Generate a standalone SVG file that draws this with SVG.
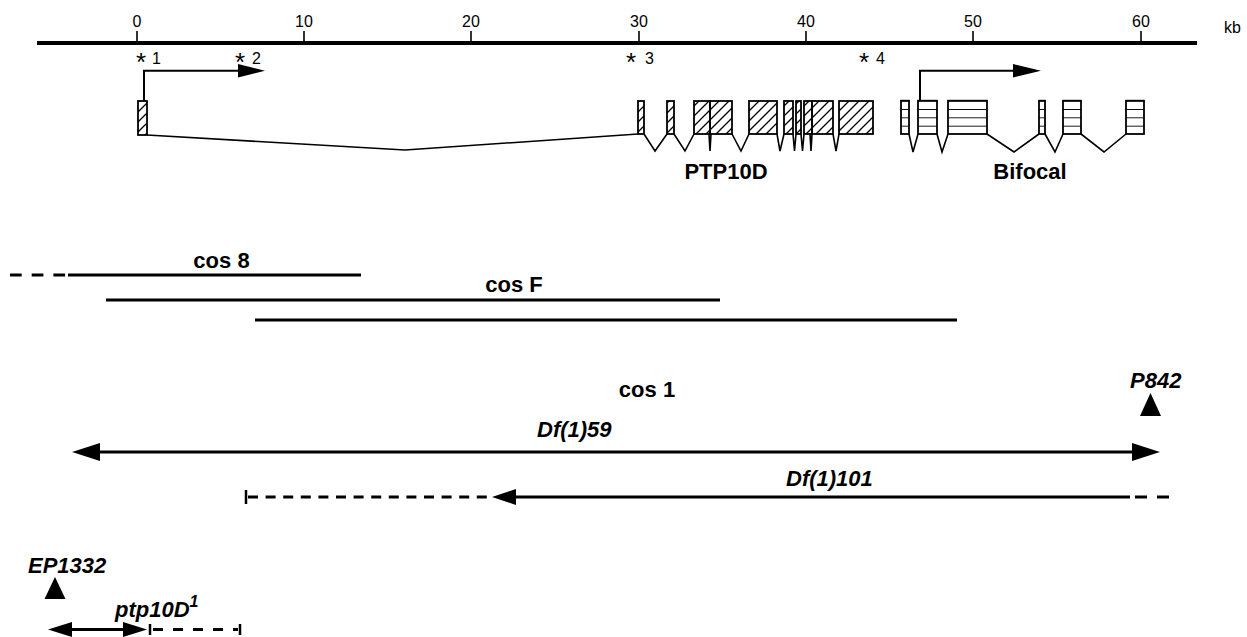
<svg xmlns="http://www.w3.org/2000/svg" width="1247" height="637" viewBox="0 0 1247 637">
<style>
  .reg{font-family:"Liberation Sans",Arial,sans-serif;font-size:16px;fill:#000}
  .b{font-family:"Liberation Sans",Arial,sans-serif;font-size:22px;font-weight:bold;fill:#000}
  .bi{font-family:"Liberation Sans",Arial,sans-serif;font-size:22px;font-weight:bold;font-style:italic;fill:#000}
  .star{font-family:"Liberation Sans",Arial,sans-serif;font-size:26px;fill:#000}
  .axis{stroke:#000;stroke-width:4;fill:none}
  .tick{stroke:#000;stroke-width:1.6;fill:none}
  .thin{stroke:#000;stroke-width:1.6;fill:none}
  .clone{stroke:#000;stroke-width:3.2;fill:none}
  .dash{stroke:#000;stroke-width:3.2;fill:none;stroke-dasharray:10 7.6}
  .hex{fill:url(#hatch);stroke:#000;stroke-width:1.8}
  .sex{fill:url(#stripe);stroke:#000;stroke-width:1.8}
  .head{fill:#000;stroke:none}
</style>
<defs>
  <pattern id="hatch" patternUnits="userSpaceOnUse" width="10" height="10">
    <path d="M-1,1 l2,-2 M0,10 l10,-10 M9,11 l2,-2" stroke="#000" stroke-width="1.3"/>
  </pattern>
  <pattern id="stripe" patternUnits="userSpaceOnUse" x="0" y="100.7" width="20" height="8.33">
    <line x1="0" y1="0" x2="20" y2="0" stroke="#000" stroke-width="1.8"/>
  </pattern>
</defs>

<g id="scale">
  <line class="axis" x1="37" y1="43" x2="1197" y2="43"/>
  <g class="tick">
    <line x1="137" y1="31" x2="137" y2="43"/>
    <line x1="304" y1="31" x2="304" y2="43"/>
    <line x1="471" y1="31" x2="471" y2="43"/>
    <line x1="639" y1="31" x2="639" y2="43"/>
    <line x1="806" y1="31" x2="806" y2="43"/>
    <line x1="973" y1="31" x2="973" y2="43"/>
    <line x1="1141" y1="31" x2="1141" y2="43"/>
  </g>
  <g class="reg" text-anchor="middle">
    <text x="137" y="27">0</text>
    <text x="304" y="27">10</text>
    <text x="471" y="27">20</text>
    <text x="639" y="27">30</text>
    <text x="806" y="27">40</text>
    <text x="973" y="27">50</text>
    <text x="1141" y="27">60</text>
  </g>
  <text class="reg" x="1224" y="33">kb</text>
</g>

<g id="sites">
  <text class="star" x="136" y="71">*</text><text class="reg" x="152" y="64">1</text>
  <text class="star" x="235" y="71">*</text><text class="reg" x="252" y="64">2</text>
  <text class="star" x="626" y="71">*</text><text class="reg" x="645" y="64">3</text>
  <text class="star" x="859" y="71">*</text><text class="reg" x="876" y="64">4</text>
</g>

<g id="ptp10d">
  <path class="thin" d="M147,135 L405,150 L638,134"/>
  <path class="thin" d="M644,134 L655,151 L667,134 M674,134 L685,151 L694,134 M709,134 L710,151 L711,134 M732,134 L741,151 L749,134 M777,134 L780,151 L784,134 M793,134 L794.5,151 L796,134 M801,134 L802.5,151 L804,134 M810,134 L811,151 L812,134 M833,134 L836,151 L839,134"/>
  <rect class="hex" x="138" y="101" width="9" height="34"/>
  <rect class="hex" x="638" y="101" width="6" height="33"/>
  <rect class="hex" x="667" y="101" width="7" height="33"/>
  <rect class="hex" x="694" y="101" width="16" height="33"/>
  <rect class="hex" x="710" y="101" width="22" height="33"/>
  <rect class="hex" x="749" y="101" width="28" height="33"/>
  <rect class="hex" x="784" y="101" width="9" height="33"/>
  <rect class="hex" x="796" y="101" width="5" height="33"/>
  <rect class="hex" x="804" y="101" width="8" height="33"/>
  <rect class="hex" x="812" y="101" width="21" height="33"/>
  <rect class="hex" x="839" y="101" width="34" height="33"/>
  <path class="thin" d="M144,101 L144,70.7 L239,70.7" style="stroke-width:2"/>
  <polygon class="head" points="238,64 265,70.7 238,77.5"/>
  <text class="b" x="726" y="179" text-anchor="middle">PTP10D</text>
</g>

<g id="bifocal">
  <path class="thin" d="M909,134 L913,152 L918,134 M937,134 L942,152 L948,134 M987,134 L1014,152 L1039,134 M1045,134 L1055,152 L1063,134 M1081,134 L1104,152 L1126,134"/>
  <rect class="sex" x="901" y="100.7" width="8" height="33.3"/>
  <rect class="sex" x="918" y="100.7" width="19" height="33.3"/>
  <rect class="sex" x="948" y="100.7" width="39" height="33.3"/>
  <rect class="sex" x="1039" y="100.7" width="6" height="33.3"/>
  <rect class="sex" x="1063" y="100.7" width="18" height="33.3"/>
  <rect class="sex" x="1126" y="100.7" width="18" height="33.3"/>
  <path class="thin" d="M920,100.7 L920,70.7 L1014,70.7" style="stroke-width:2"/>
  <polygon class="head" points="1013,64 1041,70.7 1013,77.5"/>
  <text class="b" x="1030" y="179" text-anchor="middle">Bifocal</text>
</g>

<g id="cos8">
  <line class="clone" x1="10" y1="275" x2="67" y2="275" style="stroke-dasharray:11.7 10"/>
  <line class="clone" x1="68" y1="275" x2="361" y2="275"/>
  <text class="b" x="221.5" y="268" text-anchor="middle">cos 8</text>
</g>
<g id="cosF">
  <line class="clone" x1="106" y1="300" x2="720" y2="300"/>
  <text class="b" x="514" y="292" text-anchor="middle">cos F</text>
</g>
<g id="cos1">
  <line class="clone" x1="255" y1="320" x2="957" y2="320"/>
  <text class="b" x="647" y="397" text-anchor="middle">cos 1</text>
</g>

<g id="p842">
  <text class="bi" x="1130" y="388">P842</text>
  <polygon class="head" points="1150.5,393 1161,416 1140,416"/>
</g>

<g id="df59">
  <line class="clone" x1="96" y1="452" x2="1136" y2="452"/>
  <polygon class="head" points="72,452 100,443 100,461"/>
  <polygon class="head" points="1160,452 1132,443 1132,461"/>
  <text class="bi" x="537" y="437">Df(1)59</text>
</g>

<g id="df101">
  <line x1="246" y1="490" x2="246" y2="504" stroke="#000" stroke-width="2.5"/>
  <line class="dash" x1="248" y1="497" x2="492" y2="497"/>
  <polygon class="head" points="492,497 516,489 516,505"/>
  <line class="clone" x1="514" y1="497" x2="1130" y2="497"/>
  <line class="clone" x1="1135" y1="497" x2="1170" y2="497" style="stroke-dasharray:12 10"/>
  <text class="bi" x="786" y="486">Df(1)101</text>
</g>

<g id="ep1332">
  <text class="bi" x="28" y="573">EP1332</text>
  <polygon class="head" points="55,577 65.5,599 44.5,599"/>
</g>

<g id="ptp10d1">
  <line class="clone" x1="68" y1="629.5" x2="127" y2="629.5"/>
  <polygon class="head" points="48,629.5 72,622 72,637"/>
  <polygon class="head" points="147,629.5 123,622 123,637"/>
  <line x1="150" y1="624" x2="150" y2="635" stroke="#000" stroke-width="2.5"/>
  <line class="clone" x1="153" y1="629.5" x2="238" y2="629.5" style="stroke-dasharray:10 10"/>
  <line x1="240" y1="624" x2="240" y2="635" stroke="#000" stroke-width="2.5"/>
  <text class="bi" x="115" y="617">ptp10D<tspan dy="-10" style="font-size:16px">1</tspan></text>
</g>
</svg>
